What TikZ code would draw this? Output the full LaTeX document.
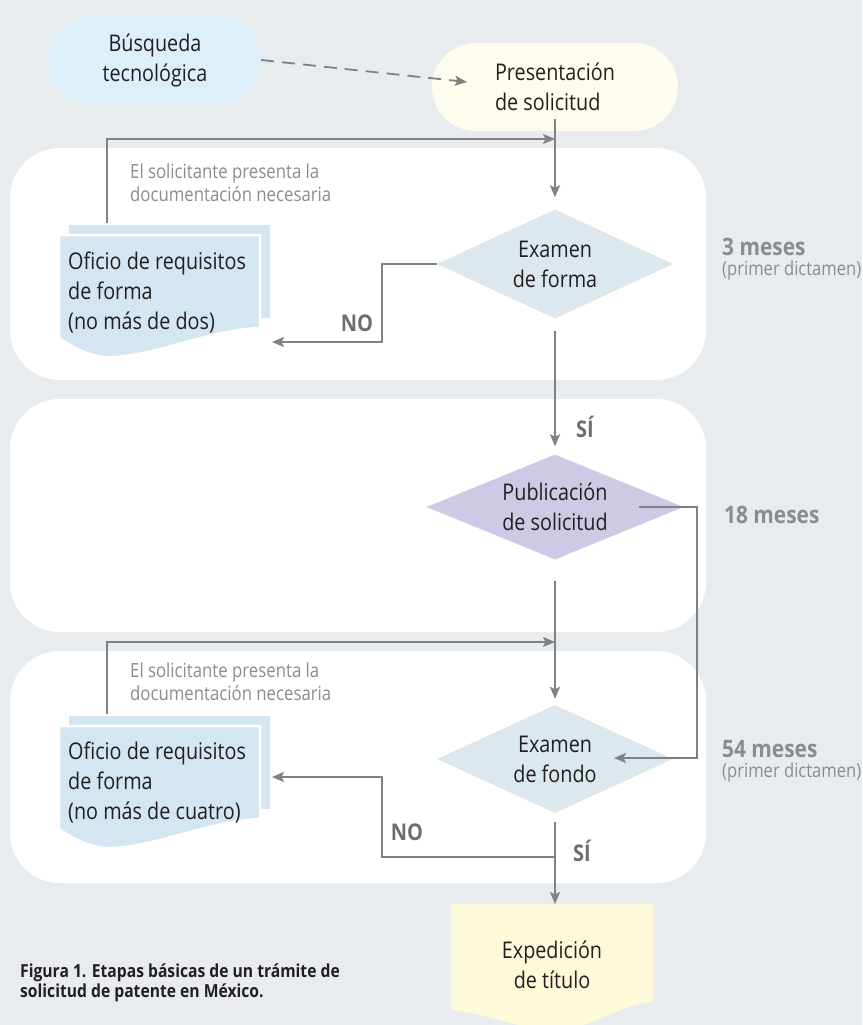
\documentclass[tikz,border=0pt]{standalone}
\usepackage{fontspec}
\setmainfont{Open Sans}[FakeStretch=0.86]
\newfontfamily\boldcond{Open Sans}[FakeStretch=0.87]
\usetikzlibrary{shapes.geometric,arrows.meta,calc}
\definecolor{bgc}{HTML}{E9ECEE}
\definecolor{busqc}{HTML}{DDF0FA}
\definecolor{presc}{HTML}{FEFCEC}
\definecolor{diac}{HTML}{DDE7EE}
\definecolor{pubc}{HTML}{CECAE6}
\definecolor{docc}{HTML}{D3E6F1}
\definecolor{expc}{HTML}{FEF9D8}
\definecolor{lineg}{HTML}{808184}
\definecolor{txt}{HTML}{231F20}
\definecolor{notec}{HTML}{8A8C8F}
\definecolor{ync}{HTML}{6D6E71}
\tikzset{
  mtext/.style={font=\fontsize{23}{30}\selectfont, text=txt, align=center, inner sep=0pt},
  term/.style={mtext, rectangle, rounded corners=44pt},
  dia/.style={mtext, diamond, shape aspect=2.15},
  doctext/.style={mtext, align=left},
  docback/.style={rectangle, fill=docc, inner sep=0pt},
  note/.style={font=\fontsize{19.5}{23}\selectfont, text=notec, align=left, inner sep=0pt},
  yn/.style={font=\boldcond\bfseries\fontsize{23}{25}\selectfont, text=ync, inner sep=0pt},
  timeb/.style={font=\boldcond\bfseries\fontsize{24}{26}\selectfont, text=notec, inner sep=0pt, anchor=west},
  times/.style={font=\fontsize{19.3}{22}\selectfont, text=notec, inner sep=0pt, anchor=west},
  captext/.style={font=\boldcond\bfseries\fontsize{18}{20}\selectfont, text=txt, align=left, inner sep=0pt, anchor=west},
  conn/.style={draw=lineg, line width=1.8pt},
  arr/.style={conn, -{Stealth[length=12pt, width=10pt, inset=2.5pt]}},
}
\begin{document}
\begin{tikzpicture}[x=1pt,y=-1pt]
\fill[bgc] (0,0) rectangle (862,1025);
\useasboundingbox (0,0) rectangle (862,1025);
% panels
\fill[white, rounded corners=50pt] (10,148) rectangle (706,380);
\fill[white, rounded corners=50pt] (10,399) rectangle (706,632);
\fill[white, rounded corners=50pt] (10,651) rectangle (706,883);

% top nodes
\node[term, fill=busqc, minimum width=212, minimum height=89] (busq) at (155,60) {Búsqueda\\tecnológica};
\node[term, fill=presc, minimum width=246, minimum height=88, align=left] (pres) at (555,87) {Presentación\\de solicitud};
\coordinate (presin) at (467,82);
\draw[arr, dash pattern=on 13pt off 8pt] (busq.east) -- (presin);

% stage 1
\node[dia, fill=diac, minimum width=236, minimum height=109] (exf) at (555,264) {Examen\\de forma};
\node[docback, anchor=north west, minimum width=201, minimum height=93] (d1b) at (69,225) {};
\fill[docc, draw=white, line width=2.5pt] (59,235) -- (260,235) -- (260,328)
  .. controls (210,330) and (160,354) .. (115,357)
  .. controls (95,358) and (80,352) .. (59,338) -- cycle;
\node[doctext, anchor=west] (d1) at (68,293) {Oficio de requisitos\\de forma\\(no más de dos)};
\node[note, anchor=west] (n1) at (130,183) {El solicitante presenta la\\documentación necesaria};
\coordinate (j1) at (555,139);
\draw[arr] ($(d1b.north west)+(38,-2)$) |- (j1);
\draw[arr, shorten >=12pt] ($(pres.south)+(0,-12)$) -- (exf.north);
\coordinate (no1) at (272,342);
\draw[arr] (exf.west) -| (382,342) -- (no1);
\node[yn] (nol1) at (357,323) {NO};
\node[timeb] (t1) at (722,247) {3 meses};
\node[times] (t1b) at (722,270) {(primer dictamen)};

% stage 2
\node[dia, fill=pubc, minimum width=257, minimum height=105] (pub) at (555,507) {Publicación\\de solicitud};
\draw[arr, shorten <=12pt, shorten >=8pt] (exf.south) -- (pub.north);
\node[yn] (si1) at (585,427) {SÍ};
\node[timeb] (t2) at (724,515) {18 meses};

% stage 3
\node[dia, fill=diac, minimum width=236, minimum height=108] (exfo) at (555,759) {Examen\\de fondo};
\draw[arr, shorten <=21pt, shorten >=6pt] (pub.south) -- (exfo.north);
\draw[arr] ($(pub.center)+(84,0)$) -- (697,507) |- ($(exfo.center)+(59,-1)$);
\begin{scope}[shift={(0,491)}]
\node[docback, anchor=north west, minimum width=201, minimum height=93] (d2b) at (69,225) {};
\fill[docc, draw=white, line width=2.5pt] (59,235) -- (260,235) -- (260,328)
  .. controls (210,330) and (160,354) .. (115,357)
  .. controls (95,358) and (80,352) .. (59,338) -- cycle;
\node[doctext, anchor=west] (d2) at (68,292) {Oficio de requisitos\\de forma\\(no más de cuatro)};
\node[note, anchor=west] (n2) at (130,191) {El solicitante presenta la\\documentación necesaria};
\end{scope}
\coordinate (j2) at (555,642);
\draw[arr] ($(d2b.north west)+(38,-2)$) |- (j2);
\coordinate (b2) at (555,857);
\coordinate (no2) at (272,777);
\draw[arr] (b2) -| (382,777) -- (no2);
\node[yn] (nol2) at (407,832) {NO};
\node[yn] (si2) at (582,851) {SÍ};
\node[timeb] (t3) at (722,749) {54 meses};
\node[times] (t3b) at (722,772) {(primer dictamen)};

% final
\fill[expc] (451,904) -- (653,904) -- (653,1002)
  .. controls (620,1004) and (590,1030) .. (555,1030)
  .. controls (520,1030) and (490,1014) .. (451,1010) -- cycle;
\node[mtext] (exp) at (552,965) {Expedición\\de título};
\coordinate (expt) at (555,904);
\draw[arr, shorten <=9pt] (exfo.south) -- (expt);

\node[captext] (capt) at (20,983) {Figura 1. Etapas básicas de un trámite de\\solicitud de patente en México.};
\end{tikzpicture}
\end{document}
